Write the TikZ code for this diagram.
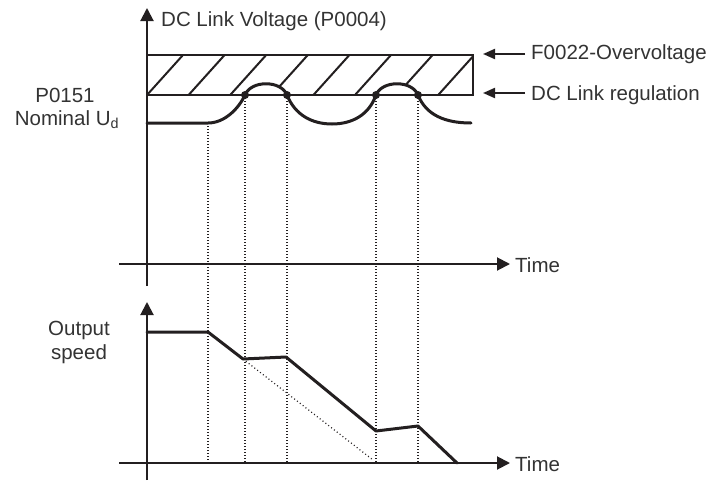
\documentclass[tikz,border=0pt]{standalone}
\usepackage{fontspec}
\setmainfont{Liberation Sans}
\usetikzlibrary{arrows.meta}
\definecolor{ink}{HTML}{231F20}
\definecolor{txt}{HTML}{333333}
\begin{document}
\begin{tikzpicture}[x=1pt,y=-1pt,
  axis/.style={line width=2pt, draw=ink, -{Triangle[length=13pt,width=13pt]}},
  pointer/.style={line width=2pt, draw=ink, -{Triangle[length=12pt,width=10pt]}},
  curve/.style={line width=3pt, draw=ink, line cap=round, line join=round},
  guide/.style={line width=1.3pt, draw=ink, dash pattern=on 1pt off 2pt},
  hatch/.style={line width=2pt, draw=ink},
  lbl/.style={font=\fontsize{20.5}{24}\selectfont, text=txt, inner sep=0pt},
  dot/.style={circle, fill=ink, minimum size=8pt, inner sep=0pt}]
\useasboundingbox (0,0) rectangle (713,480);

% ---------- upper chart ----------
\coordinate (ua0) at (147,286);
\coordinate (ua1) at (147,8);
\coordinate (ut0) at (119,264);
\coordinate (ut1) at (510,264);
\coordinate (la0) at (147,480);
\coordinate (la1) at (147,302);
\coordinate (lt0) at (119,463);
\coordinate (lt1) at (510,463);

% hatched band
\begin{scope}
  \clip (147,55) rectangle (473,95);
  \foreach \k in {0,...,8} {
    \draw[hatch] ({147+41.6*\k},95) -- ({183+41.6*\k},55);
  }
\end{scope}
% white under bumps
\fill[white] (245,95) .. controls (251,80) and (281,80) .. (287,95) -- cycle;
\fill[white] (376,95) .. controls (382,80) and (412,80) .. (418,95) -- cycle;
\draw[line width=2.5pt, draw=ink] (147,55) -- (473,55) -- (473,95) -- (147,95);

% dotted guides
\foreach \x/\y in {208/123, 245/95, 287/95, 376/95, 418/95} {
  \draw[guide] (\x,\y) -- (\x,463);
}

% voltage curve
\draw[curve] (147,123) -- (208,123)
  .. controls (225,123) and (239,108) .. (245,95)
  .. controls (251,80) and (281,80) .. (287,95)
  .. controls (295,115) and (312,124) .. (332,124)
  .. controls (352,124) and (369,115) .. (376,95)
  .. controls (382,80) and (412,80) .. (418,95)
  .. controls (426,115) and (445,123) .. (471,123);

\node[dot] (d1) at (245,95) {};
\node[dot] (d2) at (287,95) {};
\node[dot] (d3) at (376,95) {};
\node[dot] (d4) at (418,95) {};

% axes
\draw[axis] (ua0) -- (ua1);
\draw[axis] (ut0) -- (ut1);
\draw[axis] (la0) -- (la1);
\draw[axis] (lt0) -- (lt1);

% labels upper
\node[lbl, anchor=west] (title) at (161,21) {DC Link Voltage (P0004)};
\node[lbl, anchor=west] (ov) at (531,54) {F0022-Overvoltage};
\node[lbl, anchor=west] (reg) at (531,95) {DC Link regulation};
\coordinate (ovs) at (525,54);
\coordinate (ove) at (483,54);
\coordinate (regs) at (525,93);
\coordinate (rege) at (483,93);
\draw[pointer] (ovs) -- (ove);
\draw[pointer] (regs) -- (rege);
\node[lbl] (p151) at (65,95) {P0151};
\node[lbl] (nom) at (67,120) {Nominal U\textsubscript{d}};
\node[lbl, anchor=west] (time1) at (515,265) {Time};

% ---------- lower chart ----------
\draw[line width=1.2pt, draw=ink, dash pattern=on 1pt off 2.6pt] (243,359) -- (373,460);
\draw[curve] (147,332) -- (208,332) -- (243,359) -- (286,357) -- (376,431) -- (418,426) -- (457,463);
\node[lbl, align=center] (outsp) at (79,342) {Output\\speed};
\node[lbl, anchor=west] (time2) at (515,464) {Time};
\end{tikzpicture}
\end{document}
